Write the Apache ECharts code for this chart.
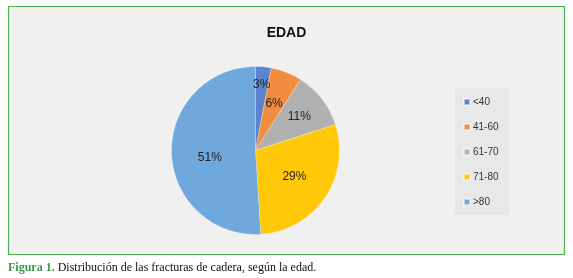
<!DOCTYPE html>
<html>
<head>
<meta charset="utf-8">
<script src="https://cdn.jsdelivr.net/npm/echarts@6/dist/echarts.min.js"></script>
<style>
html,body{margin:0;padding:0;background:#fff;}
#chart{width:573px;height:278px;}
</style>
</head>
<body>
<div id="chart"></div>
<script>
const categories = ['<40', '41-60', '61-70', '71-80', '>80'];
const values = [3, 6, 11, 29, 51];
const colors = ['#5b84cc', '#f28c3f', '#b0b0b0', '#ffc90a', '#6fa8dc'];
const titleText = 'EDAD';
const captionLabel = 'Figura 1.';
const captionText = ' Distribución de las fracturas de cadera, según la edad.';

const cx = 255.5, cy = 150.5, R = 84;
// label distance from centre (fraction of radius) and angular nudge (degrees)
const labelRadius = [0.79, 0.6, 0.66, 0.56, 0.55];
const labelNudge = [0, 0, 0, 0, -7];

const total = values.reduce((a, b) => a + b, 0);
const midAngles = [];
{
  let acc = 0;
  values.forEach(v => { midAngles.push((acc + v / 2) / total * Math.PI * 2); acc += v; });
}

const chart = echarts.init(document.getElementById('chart'));
chart.setOption({
  backgroundColor: '#ffffff',
  animation: false,
  color: colors,
  title: {
    text: titleText,
    left: 'center',
    top: 21,
    textStyle: { fontFamily: 'Liberation Sans, Arial, sans-serif', fontSize: 14, fontWeight: 'bold', color: '#111' }
  },
  graphic: [
    { type: 'rect', z: -10, shape: { x: 8.5, y: 6.5, width: 556, height: 248 },
      style: { fill: '#f0f0f0', stroke: '#4caf50', lineWidth: 1.2 } },
    { type: 'text', left: 8, top: 262,
      style: {
        text: '{a|' + captionLabel + '}{b|' + captionText + '}',
        rich: {
          a: { fontFamily: 'Liberation Serif, serif', fontSize: 12, fontWeight: 'bold', fill: '#3a9a4a' },
          b: { fontFamily: 'Liberation Serif, serif', fontSize: 12, fill: '#111' }
        }
      } }
  ],
  legend: {
    orient: 'vertical',
    left: 455,
    top: 88,
    padding: [8, 11, 7, 8],
    backgroundColor: '#e8e8e8',
    itemWidth: 6,
    itemHeight: 6,
    itemGap: 13,
    icon: 'rect',
    data: categories,
    textStyle: { fontFamily: 'Liberation Sans, Arial, sans-serif', fontSize: 10, color: '#333', lineHeight: 12, padding: [0, 0, 0, -2] }
  },
  series: [{
    type: 'pie',
    center: [cx, cy],
    radius: R,
    startAngle: 90,
    clockwise: true,
    avoidLabelOverlap: false,
    data: categories.map((c, i) => ({ name: c, value: values[i] })),
    itemStyle: { borderColor: 'rgba(255,255,255,0.5)', borderWidth: 0.5 },
    label: {
      show: true,
      position: 'outside',
      formatter: '{c}%',
      fontFamily: 'Liberation Sans, Arial, sans-serif',
      fontSize: 12,
      color: '#222'
    },
    labelLine: { show: false },
    labelLayout: function (p) {
      const a = midAngles[p.dataIndex] + labelNudge[p.dataIndex] * Math.PI / 180;
      const rr = R * labelRadius[p.dataIndex];
      return { x: cx + rr * Math.sin(a), y: cy - rr * Math.cos(a), align: 'center', verticalAlign: 'middle', hideOverlap: false, moveOverlap: null };
    },
    emphasis: { disabled: true }
  }]
});
</script>
</body>
</html>
